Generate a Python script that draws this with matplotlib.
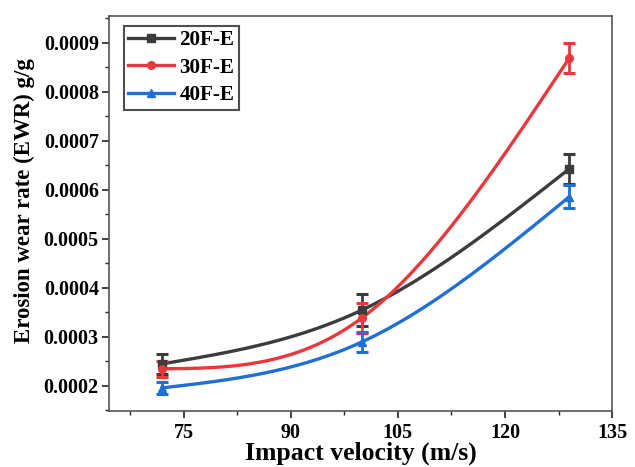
import numpy as np
import matplotlib
matplotlib.use("Agg")
import matplotlib.pyplot as plt
from matplotlib.ticker import MultipleLocator, AutoMinorLocator, FuncFormatter

# Impact velocity (m/s) and erosion wear rate (g/g) for each composite
velocity = [72, 100, 129]
labels = ["20F-E", "30F-E", "40F-E"]
ewr_20 = [0.000245, 0.000355, 0.000643]
ewr_30 = [0.000235, 0.000339, 0.000869]
ewr_40 = [0.000196, 0.000290, 0.000586]
err_20 = [0.000020, 0.000033, 0.000030]
err_30 = [0.000016, 0.000030, 0.000030]
err_40 = [0.000013, 0.000021, 0.000023]

colors = ["#3c3c3c", "#e8383d", "#1f6fd6"]
markers = ["s", "o", "^"]

plt.rcParams["font.family"] = ["Liberation Serif", "DejaVu Serif"]
plt.rcParams["font.weight"] = "bold"


def natural_spline(x, y, n=200):
    """Natural cubic spline through the given points."""
    x = np.asarray(x, float)
    y = np.asarray(y, float)
    k = len(x)
    h = np.diff(x)
    A = np.zeros((k, k))
    b = np.zeros(k)
    A[0, 0] = A[-1, -1] = 1.0
    for i in range(1, k - 1):
        A[i, i - 1] = h[i - 1]
        A[i, i] = 2 * (h[i - 1] + h[i])
        A[i, i + 1] = h[i]
        b[i] = 6 * ((y[i + 1] - y[i]) / h[i] - (y[i] - y[i - 1]) / h[i - 1])
    M = np.linalg.solve(A, b)
    xs = np.linspace(x[0], x[-1], n)
    ys = np.empty_like(xs)
    for j, xv in enumerate(xs):
        i = min(np.searchsorted(x, xv, side="right") - 1, k - 2)
        t1 = x[i + 1] - xv
        t0 = xv - x[i]
        ys[j] = (M[i] * t1 ** 3 + M[i + 1] * t0 ** 3) / (6 * h[i]) \
            + (y[i] / h[i] - M[i] * h[i] / 6) * t1 \
            + (y[i + 1] / h[i] - M[i + 1] * h[i] / 6) * t0
    return xs, ys


fig = plt.figure(figsize=(6.35, 4.67), dpi=100)
ax = fig.add_axes([0.172, 0.12, 0.792, 0.846])

series = [ewr_20, ewr_30, ewr_40]
errors = [err_20, err_30, err_40]
for vals, errs, col, mk, lab in zip(series, errors, colors, markers, labels):
    xs, ys = natural_spline(velocity, vals)
    ax.plot(xs, ys, color=col, lw=2.4, zorder=2)
    ax.errorbar(velocity, vals, yerr=errs, fmt="none", ecolor=col,
                elinewidth=2.0, capsize=4.5, capthick=2.2, zorder=3)
    ax.plot(velocity, vals, linestyle="none", marker=mk, color=col,
            markersize=5.5, zorder=4)
    ax.plot([], [], color=col, lw=2.4, marker=mk, markersize=5.5, label=lab)

ax.set_xlim(64.6, 135)
ax.set_ylim(0.000149, 0.000955)
ax.xaxis.set_major_locator(MultipleLocator(15))
ax.xaxis.set_minor_locator(AutoMinorLocator(2))
ax.yaxis.set_major_locator(MultipleLocator(0.0001))
ax.yaxis.set_minor_locator(AutoMinorLocator(2))
ax.yaxis.set_major_formatter(FuncFormatter(lambda v, p: f"{v:.4f}"))

for sp in ax.spines.values():
    sp.set_color("#555555")
    sp.set_linewidth(1.2)
ax.tick_params(axis="both", which="major", direction="out", length=5, width=1.2,
               labelsize=14.5, colors="#222222", top=False, right=False)
ax.tick_params(axis="y", which="major", pad=2.5)
ax.tick_params(axis="x", which="major", pad=4)
ax.tick_params(axis="both", which="minor", direction="out", length=3, width=1.0,
               top=False, right=False, colors="#222222")
for t in ax.get_xticklabels() + ax.get_yticklabels():
    t.set_fontweight("bold")
    t.set_color("black")

ax.set_xlabel("Impact velocity (m/s)", fontsize=18.5, fontweight="bold")
ax.set_ylabel("Erosion wear rate (EWR) g/g", fontsize=16.5, fontweight="bold")
ax.xaxis.set_label_coords(0.5, -0.078)
ax.yaxis.set_label_coords(-0.147, 0.532)

leg = ax.legend(loc="upper left", bbox_to_anchor=(0.02, 0.985),
                prop={"weight": "bold", "size": 15.2}, frameon=True, fancybox=False,
                edgecolor="#222222", handlelength=2.2, handletextpad=0.25,
                borderpad=0.2, labelspacing=0.36, borderaxespad=0.2)
leg.get_frame().set_linewidth(1.5)

fig.savefig("out.png", dpi=100)
